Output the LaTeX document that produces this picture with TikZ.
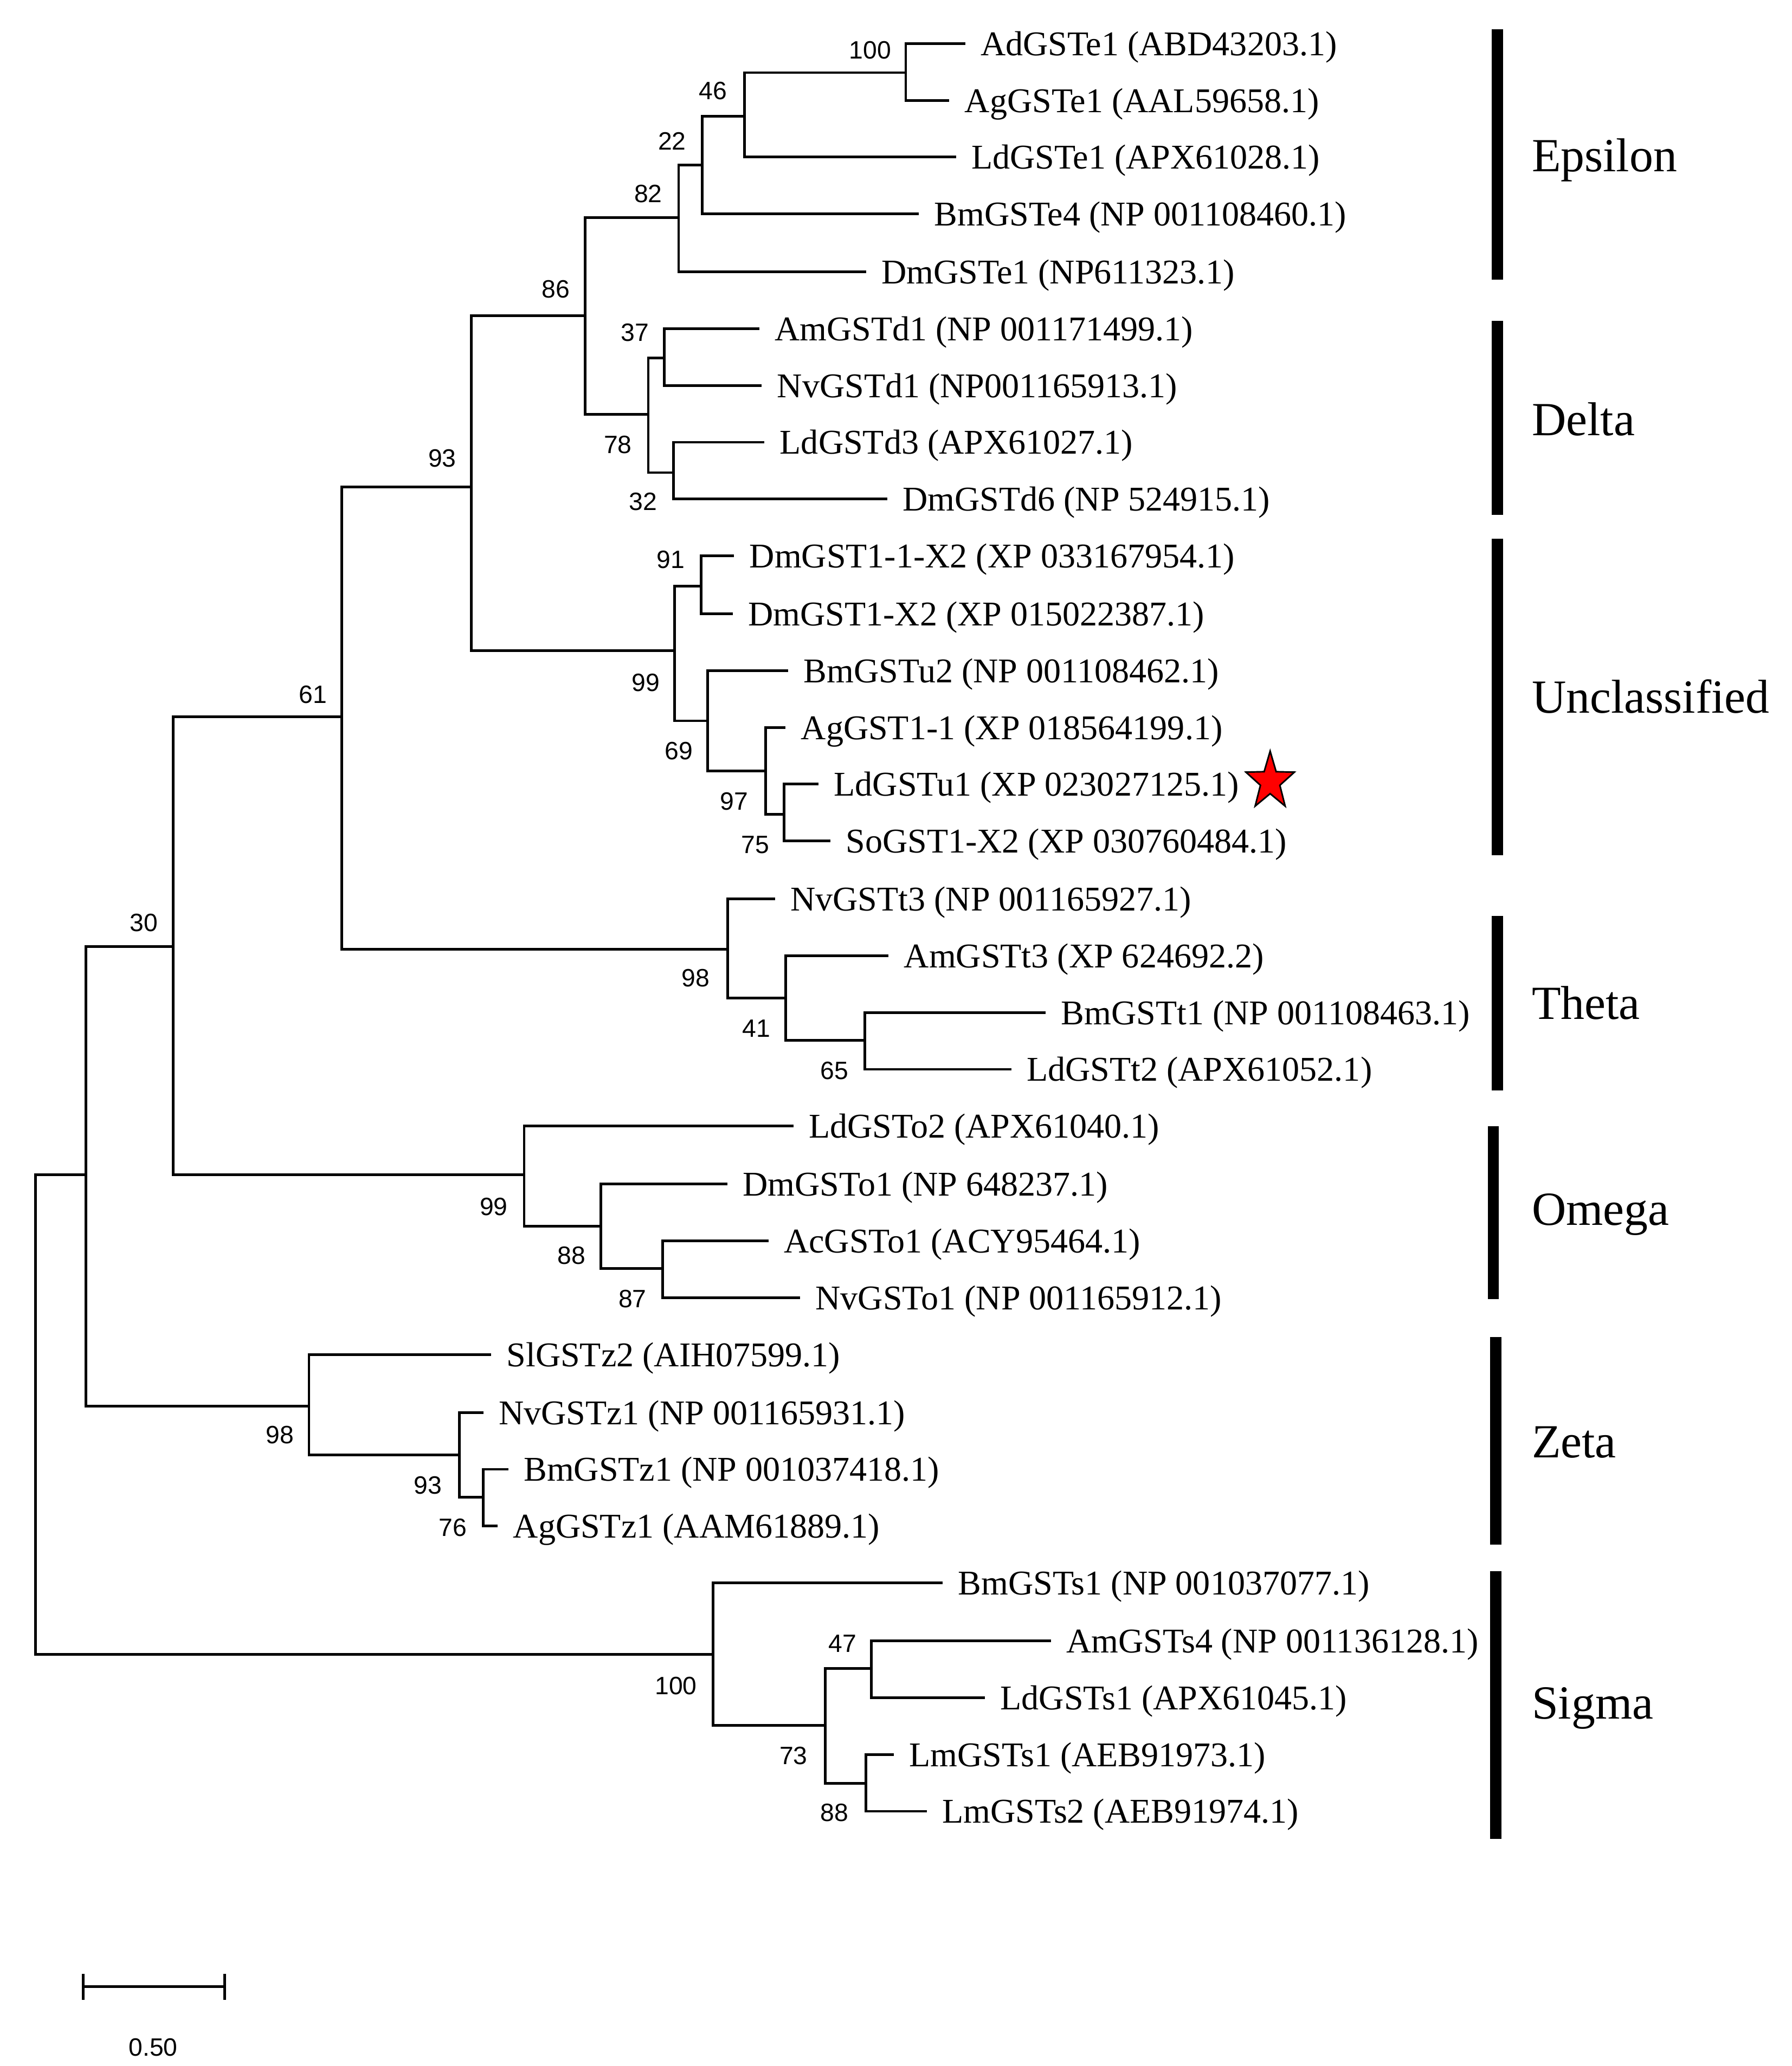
\documentclass[tikz,border=0pt]{standalone}
\usepackage{fontspec}
\setmainfont{Liberation Serif}
\newfontfamily\bsfont{Liberation Sans}
\usetikzlibrary{shapes.geometric}
\begin{document}
\begin{tikzpicture}[x=1pt,y=-1pt,
  br/.style={line width=2pt, line cap=butt, line join=miter},
  leafl/.style={anchor=base west, inner sep=0pt, font=\fontsize{26.3}{30}\selectfont},
  bs/.style={inner sep=0pt, font=\bsfont\fontsize{19}{22}\selectfont},
  clade/.style={anchor=base west, inner sep=0pt, font=\fontsize{36}{40}\selectfont},
  cbar/.style={line width=8.5pt, line cap=butt},
  sbar/.style={line width=2pt, line cap=butt}]
\useasboundingbox (0,0) rectangle (1357,1565);
% internal nodes
\coordinate (A) at (27,1071);
\coordinate (B) at (65,890);
\coordinate (C) at (131,717);
\coordinate (D) at (259,543);
\coordinate (E) at (357,369);
\coordinate (F) at (443,239);
\coordinate (G) at (514,165);
\coordinate (H) at (532,125);
\coordinate (I) at (564,88);
\coordinate (J) at (686,55);
\coordinate (K) at (491,314);
\coordinate (L) at (503,271);
\coordinate (M) at (510,358);
\coordinate (N) at (511,493);
\coordinate (O) at (531,444);
\coordinate (P) at (536,546);
\coordinate (Q) at (580,584);
\coordinate (R) at (594,617);
\coordinate (S) at (551,719);
\coordinate (T) at (595,756);
\coordinate (U) at (655,788);
\coordinate (V) at (397,890);
\coordinate (W) at (455,929);
\coordinate (X) at (502,961);
\coordinate (Y) at (234,1065);
\coordinate (Z) at (348,1102);
\coordinate (AA) at (366,1134);
\coordinate (AB) at (540,1253);
\coordinate (AC) at (625,1307);
\coordinate (AD) at (660,1264);
\coordinate (AE) at (656,1351);
% leaf tips
\coordinate (t1) at (731,33);
\coordinate (t2) at (719,76);
\coordinate (t3) at (724,119);
\coordinate (t4) at (696,162);
\coordinate (t5) at (656,206);
\coordinate (t6) at (575,249);
\coordinate (t7) at (577,292);
\coordinate (t8) at (579,335);
\coordinate (t9) at (672,378);
\coordinate (t10) at (556,421);
\coordinate (t11) at (555,465);
\coordinate (t12) at (597,508);
\coordinate (t13) at (595,551);
\coordinate (t14) at (620,594);
\coordinate (t15) at (629,637);
\coordinate (t16) at (587,681);
\coordinate (t17) at (673,724);
\coordinate (t18) at (792,767);
\coordinate (t19) at (766,810);
\coordinate (t20) at (601,853);
\coordinate (t21) at (551,897);
\coordinate (t22) at (582,940);
\coordinate (t23) at (606,983);
\coordinate (t24) at (372,1026);
\coordinate (t25) at (366,1070);
\coordinate (t26) at (385,1113);
\coordinate (t27) at (377,1156);
\coordinate (t28) at (714,1199);
\coordinate (t29) at (796,1243);
\coordinate (t30) at (746,1286);
\coordinate (t31) at (677,1329);
\coordinate (t32) at (702,1372);
% branches
\draw[br] (A) |- (B); \draw[br] (A) |- (AB);
\draw[br] (B) |- (C); \draw[br] (B) |- (Y);
\draw[br] (C) |- (D); \draw[br] (C) |- (V);
\draw[br] (D) |- (E); \draw[br] (D) |- (S);
\draw[br] (E) |- (F); \draw[br] (E) |- (N);
\draw[br] (F) |- (G); \draw[br] (F) |- (K);
\draw[br] (G) |- (H); \draw[br] (G) |- (t5);
\draw[br] (H) |- (I); \draw[br] (H) |- (t4);
\draw[br] (I) |- (J); \draw[br] (I) |- (t3);
\draw[br] (J) |- (t1); \draw[br] (J) |- (t2);
\draw[br] (K) |- (L); \draw[br] (K) |- (M);
\draw[br] (L) |- (t6); \draw[br] (L) |- (t7);
\draw[br] (M) |- (t8); \draw[br] (M) |- (t9);
\draw[br] (N) |- (O); \draw[br] (N) |- (P);
\draw[br] (O) |- (t10); \draw[br] (O) |- (t11);
\draw[br] (P) |- (t12); \draw[br] (P) |- (Q);
\draw[br] (Q) |- (t13); \draw[br] (Q) |- (R);
\draw[br] (R) |- (t14); \draw[br] (R) |- (t15);
\draw[br] (S) |- (t16); \draw[br] (S) |- (T);
\draw[br] (T) |- (t17); \draw[br] (T) |- (U);
\draw[br] (U) |- (t18); \draw[br] (U) |- (t19);
\draw[br] (V) |- (t20); \draw[br] (V) |- (W);
\draw[br] (W) |- (t21); \draw[br] (W) |- (X);
\draw[br] (X) |- (t22); \draw[br] (X) |- (t23);
\draw[br] (Y) |- (t24); \draw[br] (Y) |- (Z);
\draw[br] (Z) |- (t25); \draw[br] (Z) |- (AA);
\draw[br] (AA) |- (t26); \draw[br] (AA) |- (t27);
\draw[br] (AB) |- (t28); \draw[br] (AB) |- (AC);
\draw[br] (AC) |- (AD); \draw[br] (AC) |- (AE);
\draw[br] (AD) |- (t29); \draw[br] (AD) |- (t30);
\draw[br] (AE) |- (t31); \draw[br] (AE) |- (t32);
% leaf labels
\node[leafl] (n1) at ([xshift=11.5pt,yshift=-9pt]t1) {AdGSTe1 (ABD43203.1)};
\node[leafl] (n2) at ([xshift=11.5pt,yshift=-9pt]t2) {AgGSTe1 (AAL59658.1)};
\node[leafl] (n3) at ([xshift=11.5pt,yshift=-9pt]t3) {LdGSTe1 (APX61028.1)};
\node[leafl] (n4) at ([xshift=11.5pt,yshift=-9pt]t4) {BmGSTe4 (NP 001108460.1)};
\node[leafl] (n5) at ([xshift=11.5pt,yshift=-9pt]t5) {DmGSTe1 (NP611323.1)};
\node[leafl] (n6) at ([xshift=11.5pt,yshift=-9pt]t6) {AmGSTd1 (NP 001171499.1)};
\node[leafl] (n7) at ([xshift=11.5pt,yshift=-9pt]t7) {NvGSTd1 (NP001165913.1)};
\node[leafl] (n8) at ([xshift=11.5pt,yshift=-9pt]t8) {LdGSTd3 (APX61027.1)};
\node[leafl] (n9) at ([xshift=11.5pt,yshift=-9pt]t9) {DmGSTd6 (NP 524915.1)};
\node[leafl] (n10) at ([xshift=11.5pt,yshift=-9pt]t10) {DmGST1-1-X2 (XP 033167954.1)};
\node[leafl] (n11) at ([xshift=11.5pt,yshift=-9pt]t11) {DmGST1-X2 (XP 015022387.1)};
\node[leafl] (n12) at ([xshift=11.5pt,yshift=-9pt]t12) {BmGSTu2 (NP 001108462.1)};
\node[leafl] (n13) at ([xshift=11.5pt,yshift=-9pt]t13) {AgGST1-1 (XP 018564199.1)};
\node[leafl] (n14) at ([xshift=11.5pt,yshift=-9pt]t14) {LdGSTu1 (XP 023027125.1)};
\node[leafl] (n15) at ([xshift=11.5pt,yshift=-9pt]t15) {SoGST1-X2 (XP 030760484.1)};
\node[leafl] (n16) at ([xshift=11.5pt,yshift=-9pt]t16) {NvGSTt3 (NP 001165927.1)};
\node[leafl] (n17) at ([xshift=11.5pt,yshift=-9pt]t17) {AmGSTt3 (XP 624692.2)};
\node[leafl] (n18) at ([xshift=11.5pt,yshift=-9pt]t18) {BmGSTt1 (NP 001108463.1)};
\node[leafl] (n19) at ([xshift=11.5pt,yshift=-9pt]t19) {LdGSTt2 (APX61052.1)};
\node[leafl] (n20) at ([xshift=11.5pt,yshift=-9pt]t20) {LdGSTo2 (APX61040.1)};
\node[leafl] (n21) at ([xshift=11.5pt,yshift=-9pt]t21) {DmGSTo1 (NP 648237.1)};
\node[leafl] (n22) at ([xshift=11.5pt,yshift=-9pt]t22) {AcGSTo1 (ACY95464.1)};
\node[leafl] (n23) at ([xshift=11.5pt,yshift=-9pt]t23) {NvGSTo1 (NP 001165912.1)};
\node[leafl] (n24) at ([xshift=11.5pt,yshift=-9pt]t24) {SlGSTz2 (AIH07599.1)};
\node[leafl] (n25) at ([xshift=11.5pt,yshift=-9pt]t25) {NvGSTz1 (NP 001165931.1)};
\node[leafl] (n26) at ([xshift=11.5pt,yshift=-9pt]t26) {BmGSTz1 (NP 001037418.1)};
\node[leafl] (n27) at ([xshift=11.5pt,yshift=-9pt]t27) {AgGSTz1 (AAM61889.1)};
\node[leafl] (n28) at ([xshift=11.5pt,yshift=-9pt]t28) {BmGSTs1 (NP 001037077.1)};
\node[leafl] (n29) at ([xshift=11.5pt,yshift=-9pt]t29) {AmGSTs4 (NP 001136128.1)};
\node[leafl] (n30) at ([xshift=11.5pt,yshift=-9pt]t30) {LdGSTs1 (APX61045.1)};
\node[leafl] (n31) at ([xshift=11.5pt,yshift=-9pt]t31) {LmGSTs1 (AEB91973.1)};
\node[leafl] (n32) at ([xshift=11.5pt,yshift=-9pt]t32) {LmGSTs2 (AEB91974.1)};
% star
\node[star, star points=5, star point ratio=2.5, fill=red, draw=black, line width=1.2pt,
      minimum size=46pt, inner sep=0pt, xscale=0.84] (star) at (962,592) {};
% bootstrap values
\node[bs] (b1) at (659,38) {100};
\node[bs] (b2) at (540,69) {46};
\node[bs] (b3) at (509,107) {22};
\node[bs] (b4) at (491,147) {82};
\node[bs] (b5) at (421,219) {86};
\node[bs] (b6) at (481,252) {37};
\node[bs] (b7) at (468,337) {78};
\node[bs] (b8) at (487,380) {32};
\node[bs] (b9) at (335,347) {93};
\node[bs] (b10) at (508,424) {91};
\node[bs] (b11) at (489,517) {99};
\node[bs] (b12) at (514,569) {69};
\node[bs] (b13) at (556,607) {97};
\node[bs] (b14) at (572,640) {75};
\node[bs] (b15) at (237,526) {61};
\node[bs] (b16) at (109,699) {30};
\node[bs] (b17) at (527,741) {98};
\node[bs] (b18) at (573,779) {41};
\node[bs] (b19) at (632,811) {65};
\node[bs] (b20) at (374,914) {99};
\node[bs] (b21) at (433,951) {88};
\node[bs] (b22) at (479,984) {87};
\node[bs] (b23) at (212,1087) {98};
\node[bs] (b24) at (324,1125) {93};
\node[bs] (b25) at (343,1157) {76};
\node[bs] (b26) at (638,1245) {47};
\node[bs] (b27) at (512,1277) {100};
\node[bs] (b28) at (601,1330) {73};
\node[bs] (b29) at (632,1373) {88};
% clade bars
\draw[cbar] (1134,22) -- (1134,212);
\draw[cbar] (1134,243) -- (1134,390);
\draw[cbar] (1134,408) -- (1134,648);
\draw[cbar] (1134,694) -- (1134,826);
\draw[cbar] (1131,853) -- (1131,984);
\draw[cbar] (1133,1013) -- (1133,1170);
\draw[cbar] (1133,1190) -- (1133,1393);
% clade labels
\node[clade] (c1) at (1160,130) {Epsilon};
\node[clade] (c2) at (1160,330) {Delta};
\node[clade] (c3) at (1160,540) {Unclassified};
\node[clade] (c4) at (1160,772) {Theta};
\node[clade] (c5) at (1160,928) {Omega};
\node[clade] (c6) at (1160,1104) {Zeta};
\node[clade] (c7) at (1160,1302) {Sigma};
% scale bar
\coordinate (s1) at (63,1505);
\coordinate (s2) at (170,1505);
\draw[sbar] (s1) -- (s2);
\draw[sbar] ([yshift=10pt]s1) -- ([yshift=-10pt]s1);
\draw[sbar] ([yshift=10pt]s2) -- ([yshift=-10pt]s2);
\node[bs] (sl) at (116,1551) {0.50};
\end{tikzpicture}
\end{document}
